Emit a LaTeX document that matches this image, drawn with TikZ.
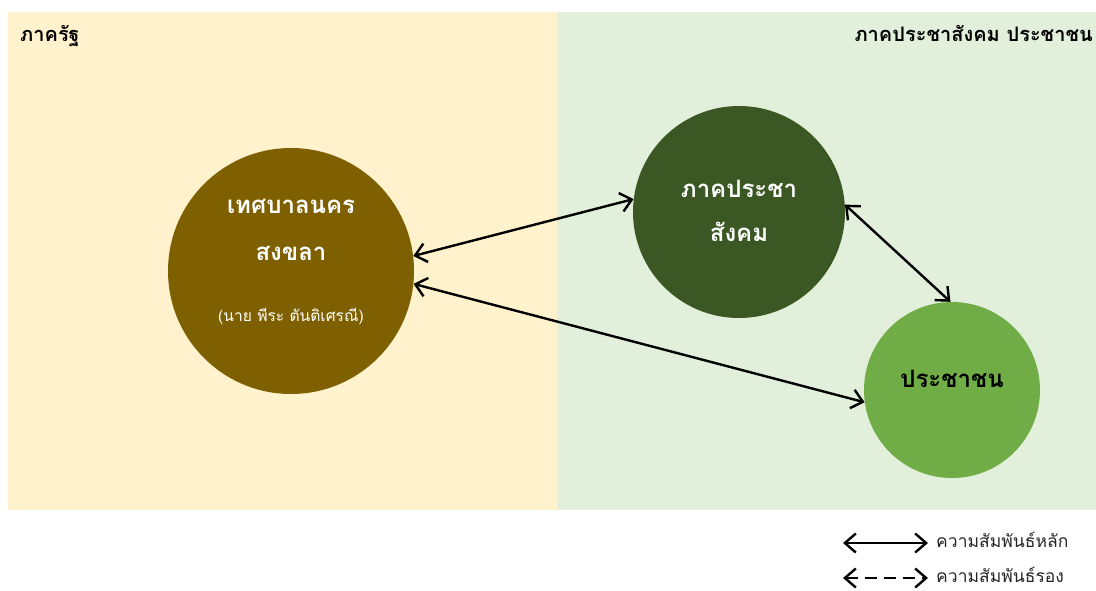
\documentclass[tikz,border=0pt]{standalone}
\usepackage{fontspec}
\newfontfamily\thai[Script=Thai]{Loma}
\usetikzlibrary{arrows.meta}
\definecolor{yel}{HTML}{FFF2CC}
\definecolor{grn}{HTML}{E2EFDA}
\definecolor{brown}{HTML}{7F6000}
\definecolor{dkgreen}{HTML}{3A5724}
\definecolor{ltgreen}{HTML}{70AD47}
\tikzset{
  circ/.style={circle, inner sep=0pt},
  tip/.tip={Straight Barb[length=11pt,width=19pt,line width=2.4pt]},
  rel/.style={line width=2.4pt, tip-tip},
  ttl/.style={font=\thai\bfseries\fontsize{20}{24}\selectfont, inner sep=0pt},
  intext/.style={font=\thai\bfseries\fontsize{24}{28}\selectfont, inner sep=0pt},
  legtext/.style={font=\thai\fontsize{17.5}{21}\selectfont, anchor=west, inner sep=0pt, text=black!85}
}
\begin{document}
\begin{tikzpicture}[x=1pt,y=-1pt]
\useasboundingbox (0,0) rectangle (1096,590);
\fill[white] (0,0) rectangle (1096,590);
\fill[yel] (8,12) rectangle (557,510);
\fill[grn] (557,12) rectangle (1096,510);
\node[ttl, anchor=west] (ttlL) at (20,36) {ภาครัฐ};
\node[ttl, anchor=east] (ttlR) at (1093,33) {ภาคประชาสังคม ประชาชน};
\node[circ, fill=brown, minimum size=246pt] (A) at (291,271) {};
\node[circ, fill=dkgreen, minimum size=212pt] (B) at (739,212) {};
\node[circ, fill=ltgreen, minimum size=176pt] (C) at (952,390) {};
\node[intext, text=white] (a1) at (291,206) {เทศบาลนคร};
\node[intext, text=white] (a2) at (291,253) {สงขลา};
\node[font=\thai\fontsize{15.6}{18}\selectfont, text=white, inner sep=0pt] (a3) at (291,317) {(นาย พีระ ตันติเศรณี)};
\node[intext, text=white] (b1) at (739,189) {ภาคประชา};
\node[intext, text=white] (b2) at (739,232) {สังคม};
\node[intext, text=black] (c1) at (952,379) {ประชาชน};
\draw[rel] (A.7) -- (B.173);
\draw[rel] (A.-6) -- (C.188);
\draw[rel] (B.4) -- (C.91);
\coordinate (l1a) at (843,543);
\coordinate (l1b) at (928,543);
\coordinate (l2a) at (843,578);
\coordinate (l2b) at (928,578);
\draw[rel] (l1a) -- (l1b);
\draw[rel, dash pattern=on 12pt off 7pt] (l2a) -- (l2b);
\node[legtext] (t1) at (936,540) {ความสัมพันธ์หลัก};
\node[legtext] (t2) at (936,575) {ความสัมพันธ์รอง};
\end{tikzpicture}
\end{document}
